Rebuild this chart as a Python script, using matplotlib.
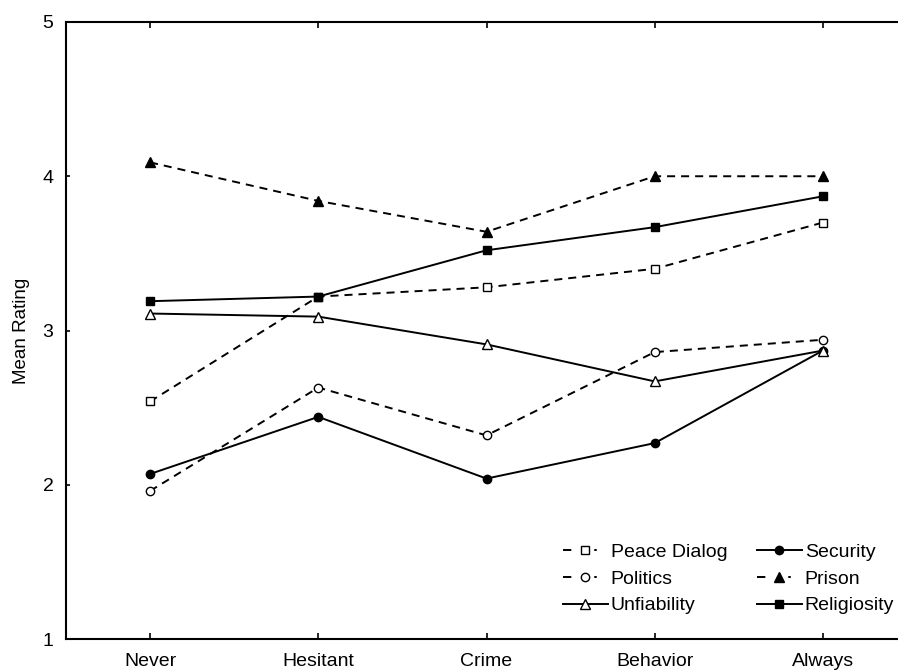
import matplotlib
matplotlib.use("Agg")
import matplotlib.pyplot as plt

plt.rcParams['font.family'] = ['Liberation Sans', 'DejaVu Sans']
plt.rcParams['lines.scale_dashes'] = False

categories = ["Never", "Hesitant", "Crime", "Behavior", "Always"]
peace_dialog = [2.54, 3.22, 3.28, 3.40, 3.70]
politics = [1.96, 2.63, 2.32, 2.86, 2.94]
unfiability = [3.11, 3.09, 2.91, 2.67, 2.87]
security = [2.07, 2.44, 2.04, 2.27, 2.87]
prison = [4.09, 3.84, 3.64, 4.00, 4.00]
religiosity = [3.19, 3.22, 3.52, 3.67, 3.87]
y_ticks = [1, 2, 3, 4, 5]

fig = plt.figure(figsize=(8.98, 6.70), dpi=100)
ax = fig.add_axes([66/898, 31/670, 841/898, 617/670])

x = list(range(len(categories)))
dash = (0, (5.8, 4.3))
lw = 1.4
ms = 6

series = [
    ("Peace Dialog", peace_dialog, dash, 's', 'white', 3),
    ("Politics", politics, dash, 'o', 'white', 3),
    ("Unfiability", unfiability, '-', '^', 'white', 5),
    ("Security", security, '-', 'o', 'black', 4),
    ("Prison", prison, dash, '^', 'black', 3),
    ("Religiosity", religiosity, '-', 's', 'black', 6),
]
lines = []
for name, vals, ls, mk, fc, z in series:
    ln, = ax.plot(x, vals, linestyle=ls, color='black', linewidth=lw,
                  marker=mk, markersize=ms if mk != '^' else ms + 1,
                  markerfacecolor=fc, markeredgecolor='black',
                  markeredgewidth=1.0, label=name, zorder=z)
    lines.append(ln)

ax.set_xlim(-0.5, 4.5)
ax.set_ylim(1, 5)
ax.set_xticks(x)
ax.set_xticklabels(categories, fontsize=14)
ax.set_yticks(y_ticks)
ax.set_yticklabels([str(v) for v in y_ticks], fontsize=14)
ax.tick_params(axis='x', direction='in', top=True, bottom=True, length=4, width=1.2, pad=10)
ax.tick_params(axis='y', direction='in', left=True, right=False, length=3, width=1.2, pad=9)
ax.spines['right'].set_visible(False)
for s in ['left', 'top', 'bottom']:
    ax.spines[s].set_linewidth(1.5)
ax.set_ylabel("Mean Rating", fontsize=13.5)
ax.yaxis.set_label_coords(-0.043, 0.5)

leg_kw = dict(frameon=False, fontsize=14, loc='upper left',
              bbox_transform=fig.transFigure, handlelength=2.3,
              handletextpad=0.15, labelspacing=0.48, borderaxespad=0,
              borderpad=0)
leg1 = ax.legend(lines[:3], [s[0] for s in series[:3]],
                 bbox_to_anchor=(563/898, 1 - 543/670), **leg_kw)
ax.add_artist(leg1)
leg2 = ax.legend(lines[3:], [s[0] for s in series[3:]],
                 bbox_to_anchor=(757/898, 1 - 543/670), **leg_kw)
for lg in (leg1, leg2):
    for hl in lg.get_lines():
        if hl.get_linestyle() != '-':
            hl.set_linestyle((0, (6.0, 16.5, 1.8, 50)))

fig.savefig("out.png", dpi=100)
